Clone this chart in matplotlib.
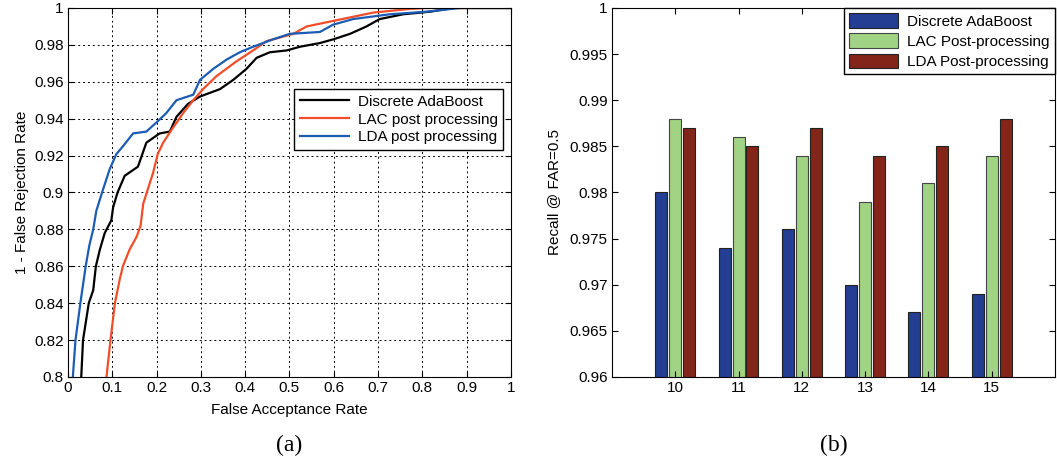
import matplotlib.pyplot as plt
import numpy as np

plt.rcParams['font.family'] = ['Liberation Sans', 'DejaVu Sans']
plt.rcParams['font.size'] = 11

# ROC curves (false acceptance rate, 1 - false rejection rate)
ada_far = [0.030, 0.034, 0.047, 0.057, 0.063, 0.072, 0.083, 0.098, 0.102, 0.112,
           0.128, 0.158, 0.177, 0.207, 0.230, 0.245, 0.271, 0.298, 0.343, 0.373,
           0.403, 0.426, 0.456, 0.494, 0.524, 0.569, 0.599, 0.637, 0.674, 0.704,
           0.757, 0.818, 0.870, 1.0]
ada_tpr = [0.800, 0.820, 0.840, 0.847, 0.860, 0.869, 0.878, 0.885, 0.892, 0.900,
           0.909, 0.914, 0.927, 0.932, 0.933, 0.941, 0.948, 0.952, 0.956, 0.961,
           0.967, 0.973, 0.976, 0.977, 0.979, 0.981, 0.983, 0.986, 0.990, 0.994,
           0.9966, 0.998, 1.0, 1.0]

lac_far = [0.087, 0.096, 0.106, 0.117, 0.124, 0.139, 0.155, 0.164, 0.170, 0.178,
           0.192, 0.203, 0.215, 0.234, 0.260, 0.283, 0.305, 0.335, 0.380, 0.418,
           0.448, 0.509, 0.539, 0.599, 0.689, 0.772, 0.810, 1.0]
lac_tpr = [0.800, 0.820, 0.840, 0.853, 0.860, 0.869, 0.876, 0.882, 0.894, 0.900,
           0.9105, 0.921, 0.927, 0.934, 0.943, 0.950, 0.956, 0.963, 0.971, 0.977,
           0.982, 0.986, 0.990, 0.993, 0.9975, 0.9995, 1.0, 1.0]

lda_far = [0.011, 0.017, 0.028, 0.040, 0.048, 0.057, 0.064, 0.077, 0.094, 0.109,
           0.124, 0.147, 0.177, 0.200, 0.222, 0.245, 0.283, 0.298, 0.328, 0.358,
           0.388, 0.418, 0.463, 0.501, 0.569, 0.599, 0.644, 0.727, 0.810, 0.885, 1.0]
lda_tpr = [0.800, 0.820, 0.840, 0.860, 0.871, 0.880, 0.890, 0.900, 0.9125, 0.9207,
           0.925, 0.932, 0.933, 0.938, 0.943, 0.950, 0.953, 0.961, 0.967, 0.972,
           0.976, 0.979, 0.983, 0.986, 0.987, 0.991, 0.994, 0.9966, 0.998, 1.0, 1.0]

# recall at FAR=0.5 per setting
settings = [10, 11, 12, 13, 14, 15]
recall_ada = [0.980, 0.974, 0.976, 0.970, 0.967, 0.969]
recall_lac = [0.988, 0.986, 0.984, 0.979, 0.981, 0.984]
recall_lda = [0.987, 0.985, 0.987, 0.984, 0.985, 0.988]

fig = plt.figure(figsize=(10.57, 4.70), dpi=100)

# ---- (a) ROC ----
ax1 = fig.add_axes([0.0643, 0.198, 0.419, 0.785])
ax1.plot(ada_far, ada_tpr, color='black', lw=1.6, label='Discrete AdaBoost')
ax1.plot(lac_far, lac_tpr, color='#f04e2a', lw=1.6, label='LAC post processing')
ax1.plot(lda_far, lda_tpr, color='#1c5cb4', lw=1.6, label='LDA post processing')
ax1.set_xlim(0, 1)
ax1.set_ylim(0.8, 1)
ax1.set_xticks(np.arange(0, 1.01, 0.1))
ax1.set_xticklabels(['0', '0.1', '0.2', '0.3', '0.4', '0.5', '0.6', '0.7', '0.8', '0.9', '1'])
ax1.set_yticks(np.arange(0.8, 1.001, 0.02))
ax1.set_yticklabels(['0.8', '0.82', '0.84', '0.86', '0.88', '0.9', '0.92',
                     '0.94', '0.96', '0.98', '1'])
ax1.grid(True, color='black', linestyle=(0, (2, 3)), linewidth=0.7)
ax1.tick_params(direction='in', top=True, right=True, length=4, pad=3)
ax1.set_xlabel('False Acceptance Rate', labelpad=6)
ax1.set_ylabel('1 - False Rejection Rate', labelpad=4)
leg1 = ax1.legend(loc='upper right', bbox_to_anchor=(1.0, 0.80), fancybox=False,
                  edgecolor='black', framealpha=1, handlelength=3.2,
                  borderpad=0.35, labelspacing=0.25, handletextpad=0.6)
leg1.get_frame().set_linewidth(1.0)
fig.text(0.2735, 0.04, '(a)', family=['Liberation Serif'], fontsize=17, ha='center')

# ---- (b) recall bars ----
ax2 = fig.add_axes([0.579, 0.198, 0.419, 0.785])
w = 0.19
x = np.array(settings)
ax2.bar(x - 0.22, recall_ada, w, color='#233e92', edgecolor='#222222', lw=0.8,
        label='Discrete AdaBoost')
ax2.bar(x, recall_lac, w, color='#a0d383', edgecolor='#444444', lw=0.8,
        label='LAC Post-processing')
ax2.bar(x + 0.22, recall_lda, w, color='#832518', edgecolor='#222222', lw=0.8,
        label='LDA Post-processing')
ax2.set_xlim(9, 16)
ax2.set_ylim(0.96, 1)
ax2.set_xticks(settings)
ax2.set_yticks(np.arange(0.96, 1.0001, 0.005))
ax2.set_yticklabels(['0.96', '0.965', '0.97', '0.975', '0.98', '0.985', '0.99',
                     '0.995', '1'])
ax2.tick_params(direction='in', top=True, right=True, length=4, pad=3)
ax2.set_ylabel('Recall @ FAR=0.5', labelpad=6)
leg2 = ax2.legend(loc='upper right', fancybox=False, edgecolor='black',
                  framealpha=1, borderaxespad=0, handlelength=3.2,
                  handleheight=1.1, borderpad=0.35, labelspacing=0.3,
                  handletextpad=0.6)
leg2.get_frame().set_linewidth(1.0)
fig.text(0.7885, 0.04, '(b)', family=['Liberation Serif'], fontsize=17, ha='center')

plt.savefig('out.png', dpi=100)
